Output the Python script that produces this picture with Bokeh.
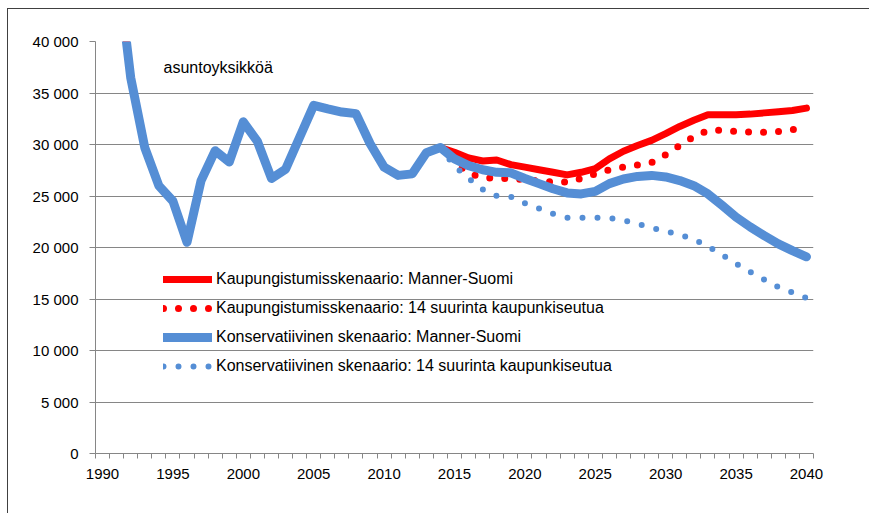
from bokeh.plotting import figure
from bokeh.models import FixedTicker, Legend, LegendItem, Label, Range1d
from bokeh.embed import file_html
from bokeh.resources import INLINE

# ---- data ----
hist_years = list(range(1990, 2015))
hist_values = [65000, 48000, 36500, 29700, 26000, 24500, 20500, 26500, 29400, 28300,
               32200, 30300, 26700, 27600, 30700, 33800, 33450, 33150, 33000, 30100,
               27800, 27000, 27150, 29200, 29700]

proj_years = list(range(2015, 2041))
kaup_manner = [29250, 28700, 28400, 28500, 28050, 27800, 27550, 27300, 27050, 27300,
               27650, 28600, 29350, 29900, 30400, 31050, 31750, 32350, 32900, 32900,
               32900, 32950, 33070, 33170, 33300, 33530]
kons_manner = [28600, 27950, 27550, 27300, 27250, 26700, 26200, 25700, 25300, 25200,
               25450, 26200, 26650, 26900, 27000, 26850, 26500, 26000, 25200, 24100,
               22950, 22000, 21150, 20350, 19700, 19100]

seutu_years = list(range(2014, 2041))
kaup_14 = [29700, 28300, 27200, 26800, 26700, 26700, 26600, 26450, 26350, 26350,
           26700, 27150, 27550, 27800, 28000, 28250, 29000, 29900, 30750, 31350,
           31380, 31280, 31200, 31200, 31250, 31450, 31550]
kons_14 = [29700, 27900, 26700, 25650, 25000, 24930, 24300, 23800, 23270, 22900,
           22880, 22900, 22850, 22650, 22290, 21900, 21600, 21230, 20800, 20120,
           19300, 18430, 17630, 16880, 16150, 15630, 15100]

series_names = ["Kaupungistumisskenaario: Manner-Suomi",
                "Kaupungistumisskenaario: 14 suurinta kaupunkiseutua",
                "Konservatiivinen skenaario: Manner-Suomi",
                "Konservatiivinen skenaario: 14 suurinta kaupunkiseutua"]
unit_label = "asuntoyksikköä"
y_ticks = [0, 5000, 10000, 15000, 20000, 25000, 30000, 35000, 40000]
x_ticks = [1990, 1995, 2000, 2005, 2010, 2015, 2020, 2025, 2030, 2035, 2040]

RED = "#FF0000"
BLUE = "#558ED5"
GRID = "#868686"
FONT = "Liberation Sans"

p = figure(width=862, height=505, output_backend="svg", toolbar_location=None,
           x_range=Range1d(1989.5, 2040.5), y_range=Range1d(0, 40000),
           min_border_left=87, min_border_right=57, min_border_top=32,
           min_border_bottom=61)
# outer chart frame (left and top edges are visible in the reference)
p.styles = {"margin-left": "7px", "margin-top": "8px",
            "border-left": "1px solid #404040", "border-top": "1px solid #404040"}
p.outline_line_color = None
p.xgrid.grid_line_color = None
p.ygrid.grid_line_color = GRID
p.ygrid.grid_line_width = 1

# axes
p.yaxis.ticker = FixedTicker(ticks=y_ticks)
p.yaxis.major_label_overrides = {v: f"{v:,}".replace(",", " ") for v in y_ticks}
p.yaxis.axis_line_color = GRID
p.yaxis.major_tick_line_color = GRID
p.yaxis.major_tick_out = 6
p.yaxis.major_tick_in = 0
p.yaxis.minor_tick_line_color = None
p.yaxis.major_label_standoff = 11
p.yaxis.major_label_text_font = FONT
p.yaxis.major_label_text_font_size = "15px"
p.yaxis.major_label_text_color = "#000000"

minor = [x + 0.5 for x in range(1989, 2041)]
p.xaxis.ticker = FixedTicker(ticks=x_ticks, minor_ticks=minor)
p.xaxis.axis_line_color = GRID
p.xaxis.major_tick_line_color = None
p.xaxis.major_tick_out = 5
p.xaxis.major_tick_in = 0
p.xaxis.minor_tick_line_color = GRID
p.xaxis.minor_tick_out = 5
p.xaxis.minor_tick_in = 0
p.xaxis.major_label_standoff = 10
p.xaxis.major_label_text_font = FONT
p.xaxis.major_label_text_font_size = "15px"
p.xaxis.major_label_text_color = "#000000"

full_years = hist_years + proj_years
r1 = p.line(full_years, hist_values + kaup_manner, line_color=RED, line_width=7,
            line_join="round", line_cap="round")
r2 = p.line(seutu_years, kaup_14, line_color=RED, line_width=7, line_dash="0 15",
            line_cap="round", line_join="round")
r3 = p.line(full_years, hist_values + kons_manner, line_color=BLUE, line_width=9,
            line_join="round", line_cap="round")
r4 = p.line(seutu_years, kons_14, line_color=BLUE, line_width=6, line_dash="0 15",
            line_cap="round", line_join="round")

legend = Legend(items=[LegendItem(label=series_names[0], renderers=[r1]),
                       LegendItem(label=series_names[1], renderers=[r2]),
                       LegendItem(label=series_names[2], renderers=[r3]),
                       LegendItem(label=series_names[3], renderers=[r4])],
                location=(68, 77), margin=0, padding=0, spacing=9,
                glyph_width=49, glyph_height=20, label_height=20,
                label_standoff=4, border_line_color=None,
                background_fill_alpha=0, label_text_font=FONT,
                label_text_font_size="16px", label_text_color="#000000")
p.add_layout(legend, "center")

p.add_layout(Label(x=1994.33, y=37476, text=unit_label, text_baseline="middle",
                   text_font=FONT, text_font_size="16px", text_color="#000000"))

open("out.html", "w").write(file_html(p, INLINE))
